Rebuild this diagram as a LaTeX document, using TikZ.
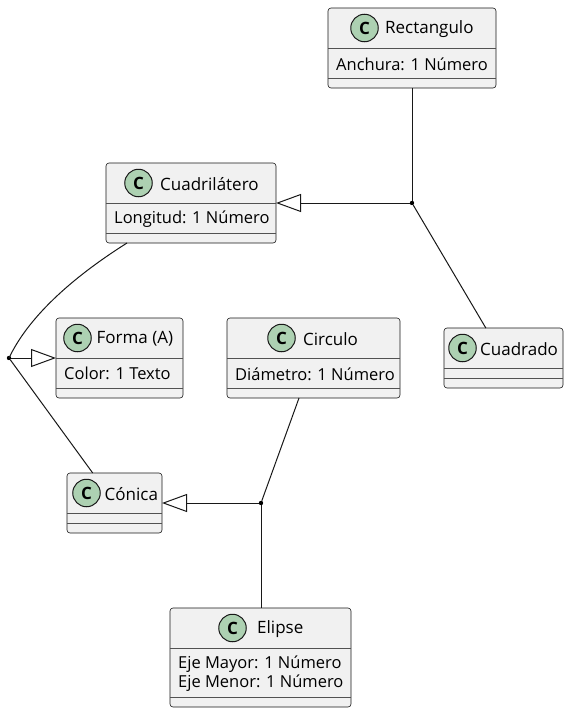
\documentclass[tikz,border=0pt]{standalone}
\usepackage{fontspec}
\setmainfont{Open Sans}
\usetikzlibrary{arrows.meta,calc}
\definecolor{boxfill}{HTML}{F1F1F1}
\definecolor{boxline}{HTML}{181818}
\definecolor{iconfill}{HTML}{ADD1B2}
\tikzset{
  classbox/.style={draw=boxline,fill=boxfill,line width=0.6pt,rounded corners=3pt,inner sep=0pt,outer sep=0pt,rectangle},
  sepline/.style={draw=boxline!75,line width=0.7pt},
  iconc/.style={circle,draw=boxline,fill=iconfill,line width=1pt,minimum size=27.5pt,inner sep=0pt,font=\fontsize{17}{17}\bfseries\selectfont},
  titletext/.style={anchor=west,inner sep=0pt,font=\fontsize{17}{19}\selectfont,text=black},
  attrtext/.style={anchor=west,inner sep=0pt,align=left,font=\fontsize{16.5}{19}\selectfont,text=black},
  jdot/.style={circle,fill=black,inner sep=0pt,minimum size=4.4pt},
  link/.style={draw=boxline,line width=1pt},
  inherit/.style={link,{Triangle[open,length=25pt,width=18pt,fill=white]}-},
}
% name, x1, y1, x2, y2, sep1, sep2, icon x, title x (title and attributes in \umltitle, \umlattr)
\newcommand{\umlclass}[9]{%
  \node[classbox,minimum width=#4pt-#2pt,minimum height=#5pt-#3pt] (#1) at ({(#2+#4)/2},{(#3+#5)/2}) {};
  \draw[sepline] (#2,#6) -- (#4,#6);
  \draw[sepline] (#2,#7) -- (#4,#7);
  \node[iconc] (#1icon) at (#8,{(#3+#6)/2}) {C};
  \node[titletext] (#1title) at (#9,{(#3+#6)/2+1}) {\umltitle};
  \node[attrtext] (#1attr) at ({#2+8},{(#6+#7)/2+0.8}) {\umlattr};
}
\begin{document}
\begin{tikzpicture}[x=1pt,y=-1pt]
\useasboundingbox (0,0) rectangle (570,715);

\def\umltitle{Rectangulo}\def\umlattr{Anchura: 1 Número}
\umlclass{rect}{328}{8}{496}{88}{48}{78}{364.5}{385}
\def\umltitle{Cuadrilátero}\def\umlattr{Longitud: 1 Número}
\umlclass{cuad}{106}{163}{276}{243}{203}{233}{138.5}{160}
\def\umltitle{Forma (A)}\def\umlattr{Color: 1 Texto}
\umlclass{forma}{56}{318}{183}{398}{358}{388}{77.5}{96.5}
\def\umltitle{Circulo}\def\umlattr{Diámetro: 1 Número}
\umlclass{circ}{227}{318}{400}{398}{358}{388}{281.5}{303}
\def\umltitle{Cuadrado}\def\umlattr{}
\umlclass{cdo}{444}{328}{563}{388}{368}{378}{462.5}{480}
\def\umltitle{Cónica}\def\umlattr{}
\umlclass{con}{67}{473}{162}{533}{513}{523}{86.5}{104.5}
\def\umltitle{Elipse}\def\umlattr{Eje Mayor: 1 Número\\Eje Menor: 1 Número}
\umlclass{eli}{170}{608}{351}{707}{648}{697}{232.5}{257}

\node[jdot] (j1) at (412,203) {};
\node[jdot] (j2) at (9,358) {};
\node[jdot] (j3) at (261,503) {};

\draw[link] (rect.south -| j1) -- (j1);
\draw[link] (j1) -- (cdo);
\draw[inherit] (cuad.east |- j1) -- (j1);
\coordinate (cuadout) at ($(cuad.south)+(-64,0)$);
\draw[link] (cuadout) .. controls ($(cuadout)+(-57,36)$) and ($(j2)+(19,-40)$) .. (j2.center);
\draw[inherit] (forma.west |- j2) -- (j2);
\draw[link] (j2) -- (con);
\draw[link] (circ) -- (j3);
\draw[inherit] (con.east |- j3) -- (j3);
\draw[link] (j3) -- (eli.north -| j3);
\end{tikzpicture}
\end{document}
